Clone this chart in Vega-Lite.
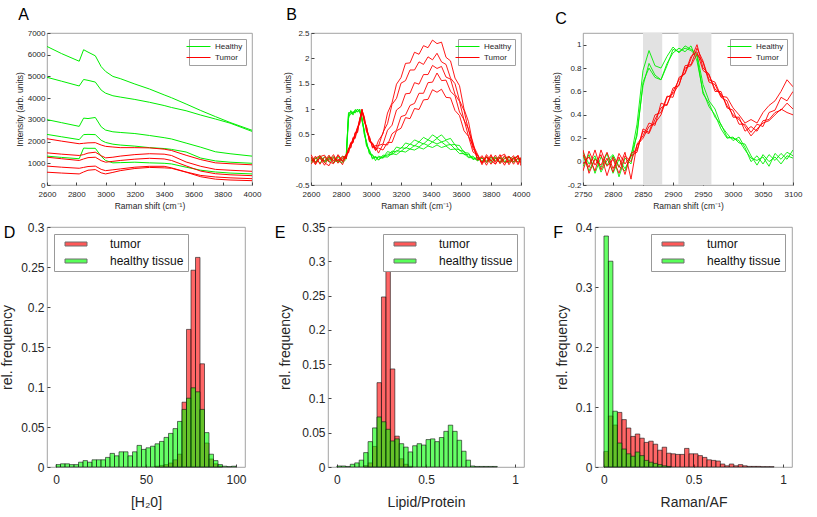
{
"$schema": "https://vega.github.io/schema/vega-lite/v6.json",
"background": "white",
"padding": {"left": 0, "top": 6, "right": 2, "bottom": 2},
"config": {
 "font": "Liberation Sans",
 "view": {"stroke": "#8c8c8c", "strokeWidth": 0.8},
 "axis": {"grid": false, "domain": false, "tickColor": "#444", "tickSize": -3, "labelColor": "#262626", "titleColor": "#262626", "titleFontWeight": "normal", "labelFont": "Liberation Sans", "titleFont": "Liberation Sans", "labelOverlap": false, "labelFlush": false},
 "title": {"font": "Liberation Sans", "fontWeight": "normal", "fontSize": 16, "anchor": "start", "frame": "bounds", "color": "black"}
},
"datasets": {
"a": [
{"s":"Healthy","i":"G1","x":2600,"y":6380},{"s":"Healthy","i":"G1","x":2700,"y":6050},{"s":"Healthy","i":"G1","x":2820,"y":5700},{"s":"Healthy","i":"G1","x":2850,"y":6230},{"s":"Healthy","i":"G1","x":2880,"y":6120},{"s":"Healthy","i":"G1","x":2930,"y":5950},{"s":"Healthy","i":"G1","x":2970,"y":5450},{"s":"Healthy","i":"G1","x":3000,"y":5230},{"s":"Healthy","i":"G1","x":3050,"y":5000},{"s":"Healthy","i":"G1","x":3100,"y":4900},{"s":"Healthy","i":"G1","x":3200,"y":4650},{"s":"Healthy","i":"G1","x":3300,"y":4420},{"s":"Healthy","i":"G1","x":3400,"y":4150},{"s":"Healthy","i":"G1","x":3450,"y":4020},{"s":"Healthy","i":"G1","x":3550,"y":3730},{"s":"Healthy","i":"G1","x":3650,"y":3430},{"s":"Healthy","i":"G1","x":3750,"y":3150},{"s":"Healthy","i":"G1","x":3850,"y":2880},{"s":"Healthy","i":"G1","x":4000,"y":2520},
{"s":"Healthy","i":"G2","x":2600,"y":4960},{"s":"Healthy","i":"G2","x":2700,"y":4780},{"s":"Healthy","i":"G2","x":2820,"y":4560},{"s":"Healthy","i":"G2","x":2850,"y":4860},{"s":"Healthy","i":"G2","x":2880,"y":4820},{"s":"Healthy","i":"G2","x":2930,"y":4740},{"s":"Healthy","i":"G2","x":2970,"y":4370},{"s":"Healthy","i":"G2","x":3000,"y":4230},{"s":"Healthy","i":"G2","x":3050,"y":4110},{"s":"Healthy","i":"G2","x":3100,"y":4050},{"s":"Healthy","i":"G2","x":3200,"y":3940},{"s":"Healthy","i":"G2","x":3300,"y":3810},{"s":"Healthy","i":"G2","x":3400,"y":3660},{"s":"Healthy","i":"G2","x":3450,"y":3570},{"s":"Healthy","i":"G2","x":3550,"y":3420},{"s":"Healthy","i":"G2","x":3650,"y":3220},{"s":"Healthy","i":"G2","x":3750,"y":3040},{"s":"Healthy","i":"G2","x":3850,"y":2850},{"s":"Healthy","i":"G2","x":4000,"y":2470},
{"s":"Healthy","i":"G3","x":2600,"y":3010},{"s":"Healthy","i":"G3","x":2700,"y":2870},{"s":"Healthy","i":"G3","x":2820,"y":2700},{"s":"Healthy","i":"G3","x":2850,"y":3080},{"s":"Healthy","i":"G3","x":2880,"y":3060},{"s":"Healthy","i":"G3","x":2930,"y":3110},{"s":"Healthy","i":"G3","x":2970,"y":2680},{"s":"Healthy","i":"G3","x":3000,"y":2530},{"s":"Healthy","i":"G3","x":3050,"y":2450},{"s":"Healthy","i":"G3","x":3100,"y":2420},{"s":"Healthy","i":"G3","x":3200,"y":2370},{"s":"Healthy","i":"G3","x":3300,"y":2280},{"s":"Healthy","i":"G3","x":3400,"y":2180},{"s":"Healthy","i":"G3","x":3450,"y":2120},{"s":"Healthy","i":"G3","x":3550,"y":1930},{"s":"Healthy","i":"G3","x":3650,"y":1740},{"s":"Healthy","i":"G3","x":3750,"y":1530},{"s":"Healthy","i":"G3","x":3850,"y":1440},{"s":"Healthy","i":"G3","x":4000,"y":1330},
{"s":"Healthy","i":"G4","x":2600,"y":2330},{"s":"Healthy","i":"G4","x":2700,"y":2220},{"s":"Healthy","i":"G4","x":2820,"y":2090},{"s":"Healthy","i":"G4","x":2850,"y":2320},{"s":"Healthy","i":"G4","x":2880,"y":2330},{"s":"Healthy","i":"G4","x":2930,"y":2320},{"s":"Healthy","i":"G4","x":2970,"y":2060},{"s":"Healthy","i":"G4","x":3000,"y":1960},{"s":"Healthy","i":"G4","x":3050,"y":1880},{"s":"Healthy","i":"G4","x":3100,"y":1840},{"s":"Healthy","i":"G4","x":3200,"y":1790},{"s":"Healthy","i":"G4","x":3300,"y":1720},{"s":"Healthy","i":"G4","x":3400,"y":1680},{"s":"Healthy","i":"G4","x":3450,"y":1640},{"s":"Healthy","i":"G4","x":3550,"y":1520},{"s":"Healthy","i":"G4","x":3650,"y":1240},{"s":"Healthy","i":"G4","x":3750,"y":1110},{"s":"Healthy","i":"G4","x":3850,"y":1050},{"s":"Healthy","i":"G4","x":4000,"y":1000},
{"s":"Healthy","i":"G5","x":2600,"y":1330},{"s":"Healthy","i":"G5","x":2700,"y":1270},{"s":"Healthy","i":"G5","x":2820,"y":1210},{"s":"Healthy","i":"G5","x":2850,"y":1700},{"s":"Healthy","i":"G5","x":2880,"y":1690},{"s":"Healthy","i":"G5","x":2930,"y":1690},{"s":"Healthy","i":"G5","x":2970,"y":1320},{"s":"Healthy","i":"G5","x":3000,"y":1130},{"s":"Healthy","i":"G5","x":3050,"y":1020},{"s":"Healthy","i":"G5","x":3100,"y":1030},{"s":"Healthy","i":"G5","x":3200,"y":1050},{"s":"Healthy","i":"G5","x":3300,"y":1020},{"s":"Healthy","i":"G5","x":3400,"y":1000},{"s":"Healthy","i":"G5","x":3450,"y":970},{"s":"Healthy","i":"G5","x":3550,"y":820},{"s":"Healthy","i":"G5","x":3650,"y":680},{"s":"Healthy","i":"G5","x":3750,"y":600},{"s":"Healthy","i":"G5","x":3850,"y":550},{"s":"Healthy","i":"G5","x":4000,"y":510},
{"s":"Tumor","i":"R1","x":2600,"y":2130},{"s":"Tumor","i":"R1","x":2700,"y":2020},{"s":"Tumor","i":"R1","x":2820,"y":1900},{"s":"Tumor","i":"R1","x":2850,"y":1920},{"s":"Tumor","i":"R1","x":2880,"y":1940},{"s":"Tumor","i":"R1","x":2930,"y":1950},{"s":"Tumor","i":"R1","x":2970,"y":1840},{"s":"Tumor","i":"R1","x":3000,"y":1780},{"s":"Tumor","i":"R1","x":3050,"y":1750},{"s":"Tumor","i":"R1","x":3100,"y":1720},{"s":"Tumor","i":"R1","x":3200,"y":1720},{"s":"Tumor","i":"R1","x":3300,"y":1710},{"s":"Tumor","i":"R1","x":3400,"y":1650},{"s":"Tumor","i":"R1","x":3450,"y":1590},{"s":"Tumor","i":"R1","x":3550,"y":1370},{"s":"Tumor","i":"R1","x":3650,"y":1170},{"s":"Tumor","i":"R1","x":3750,"y":1020},{"s":"Tumor","i":"R1","x":3850,"y":980},{"s":"Tumor","i":"R1","x":4000,"y":930},
{"s":"Tumor","i":"R2","x":2600,"y":1480},{"s":"Tumor","i":"R2","x":2700,"y":1420},{"s":"Tumor","i":"R2","x":2820,"y":1360},{"s":"Tumor","i":"R2","x":2850,"y":1400},{"s":"Tumor","i":"R2","x":2880,"y":1470},{"s":"Tumor","i":"R2","x":2930,"y":1510},{"s":"Tumor","i":"R2","x":2970,"y":1350},{"s":"Tumor","i":"R2","x":3000,"y":1250},{"s":"Tumor","i":"R2","x":3050,"y":1280},{"s":"Tumor","i":"R2","x":3100,"y":1330},{"s":"Tumor","i":"R2","x":3200,"y":1400},{"s":"Tumor","i":"R2","x":3300,"y":1440},{"s":"Tumor","i":"R2","x":3400,"y":1420},{"s":"Tumor","i":"R2","x":3450,"y":1360},{"s":"Tumor","i":"R2","x":3550,"y":1060},{"s":"Tumor","i":"R2","x":3650,"y":860},{"s":"Tumor","i":"R2","x":3750,"y":720},{"s":"Tumor","i":"R2","x":3850,"y":680},{"s":"Tumor","i":"R2","x":4000,"y":630},
{"s":"Tumor","i":"R3","x":2600,"y":870},{"s":"Tumor","i":"R3","x":2700,"y":820},{"s":"Tumor","i":"R3","x":2820,"y":770},{"s":"Tumor","i":"R3","x":2850,"y":810},{"s":"Tumor","i":"R3","x":2880,"y":850},{"s":"Tumor","i":"R3","x":2930,"y":870},{"s":"Tumor","i":"R3","x":2970,"y":720},{"s":"Tumor","i":"R3","x":3000,"y":660},{"s":"Tumor","i":"R3","x":3050,"y":700},{"s":"Tumor","i":"R3","x":3100,"y":740},{"s":"Tumor","i":"R3","x":3200,"y":820},{"s":"Tumor","i":"R3","x":3300,"y":860},{"s":"Tumor","i":"R3","x":3400,"y":860},{"s":"Tumor","i":"R3","x":3450,"y":790},{"s":"Tumor","i":"R3","x":3550,"y":600},{"s":"Tumor","i":"R3","x":3650,"y":440},{"s":"Tumor","i":"R3","x":3750,"y":370},{"s":"Tumor","i":"R3","x":3850,"y":330},{"s":"Tumor","i":"R3","x":4000,"y":290},
{"s":"Tumor","i":"R4","x":2600,"y":590},{"s":"Tumor","i":"R4","x":2700,"y":550},{"s":"Tumor","i":"R4","x":2820,"y":510},{"s":"Tumor","i":"R4","x":2850,"y":600},{"s":"Tumor","i":"R4","x":2880,"y":680},{"s":"Tumor","i":"R4","x":2930,"y":710},{"s":"Tumor","i":"R4","x":2970,"y":560},{"s":"Tumor","i":"R4","x":3000,"y":510},{"s":"Tumor","i":"R4","x":3050,"y":580},{"s":"Tumor","i":"R4","x":3100,"y":660},{"s":"Tumor","i":"R4","x":3200,"y":760},{"s":"Tumor","i":"R4","x":3300,"y":810},{"s":"Tumor","i":"R4","x":3400,"y":790},{"s":"Tumor","i":"R4","x":3450,"y":770},{"s":"Tumor","i":"R4","x":3550,"y":590},{"s":"Tumor","i":"R4","x":3650,"y":380},{"s":"Tumor","i":"R4","x":3750,"y":270},{"s":"Tumor","i":"R4","x":3850,"y":230},{"s":"Tumor","i":"R4","x":4000,"y":200},
{"s":"Tumor","i":"R5","x":2600,"y":1280},{"s":"Tumor","i":"R5","x":2700,"y":1210},{"s":"Tumor","i":"R5","x":2820,"y":1130},{"s":"Tumor","i":"R5","x":2850,"y":1200},{"s":"Tumor","i":"R5","x":2880,"y":1260},{"s":"Tumor","i":"R5","x":2930,"y":1280},{"s":"Tumor","i":"R5","x":2970,"y":1120},{"s":"Tumor","i":"R5","x":3000,"y":1050},{"s":"Tumor","i":"R5","x":3050,"y":1090},{"s":"Tumor","i":"R5","x":3100,"y":1130},{"s":"Tumor","i":"R5","x":3200,"y":1190},{"s":"Tumor","i":"R5","x":3300,"y":1230},{"s":"Tumor","i":"R5","x":3400,"y":1200},{"s":"Tumor","i":"R5","x":3450,"y":1130},{"s":"Tumor","i":"R5","x":3550,"y":880},{"s":"Tumor","i":"R5","x":3650,"y":640},{"s":"Tumor","i":"R5","x":3750,"y":520},{"s":"Tumor","i":"R5","x":3850,"y":470},{"s":"Tumor","i":"R5","x":4000,"y":430}
],
"b": [
{"s":"Healthy","i":"H1","x":2600,"y":0.05},{"s":"Healthy","i":"H1","x":2630,"y":-0.06},{"s":"Healthy","i":"H1","x":2660,"y":0.08},{"s":"Healthy","i":"H1","x":2690,"y":-0.02},{"s":"Healthy","i":"H1","x":2720,"y":0.04},{"s":"Healthy","i":"H1","x":2750,"y":-0.07},{"s":"Healthy","i":"H1","x":2780,"y":0.06},{"s":"Healthy","i":"H1","x":2810,"y":-0.04},{"s":"Healthy","i":"H1","x":2835,"y":0.08},{"s":"Healthy","i":"H1","x":2850,"y":0.9},{"s":"Healthy","i":"H1","x":2865,"y":0.95},{"s":"Healthy","i":"H1","x":2880,"y":0.93},{"s":"Healthy","i":"H1","x":2895,"y":0.94},{"s":"Healthy","i":"H1","x":2910,"y":1.0},{"s":"Healthy","i":"H1","x":2925,"y":0.93},{"s":"Healthy","i":"H1","x":2940,"y":0.84},{"s":"Healthy","i":"H1","x":2955,"y":0.52},{"s":"Healthy","i":"H1","x":2970,"y":0.36},{"s":"Healthy","i":"H1","x":2990,"y":0.12},{"s":"Healthy","i":"H1","x":3010,"y":0.1},{"s":"Healthy","i":"H1","x":3030,"y":-0.02},{"s":"Healthy","i":"H1","x":3050,"y":0.07},{"s":"Healthy","i":"H1","x":3080,"y":0.04},{"s":"Healthy","i":"H1","x":3110,"y":0.16},{"s":"Healthy","i":"H1","x":3140,"y":0.13},{"s":"Healthy","i":"H1","x":3170,"y":0.25},{"s":"Healthy","i":"H1","x":3200,"y":0.22},{"s":"Healthy","i":"H1","x":3230,"y":0.33},{"s":"Healthy","i":"H1","x":3260,"y":0.3},{"s":"Healthy","i":"H1","x":3290,"y":0.39},{"s":"Healthy","i":"H1","x":3320,"y":0.35},{"s":"Healthy","i":"H1","x":3350,"y":0.44},{"s":"Healthy","i":"H1","x":3380,"y":0.39},{"s":"Healthy","i":"H1","x":3410,"y":0.49},{"s":"Healthy","i":"H1","x":3440,"y":0.43},{"s":"Healthy","i":"H1","x":3470,"y":0.49},{"s":"Healthy","i":"H1","x":3500,"y":0.39},{"s":"Healthy","i":"H1","x":3530,"y":0.42},{"s":"Healthy","i":"H1","x":3560,"y":0.29},{"s":"Healthy","i":"H1","x":3590,"y":0.28},{"s":"Healthy","i":"H1","x":3620,"y":0.14},{"s":"Healthy","i":"H1","x":3650,"y":0.13},{"s":"Healthy","i":"H1","x":3680,"y":0.0},{"s":"Healthy","i":"H1","x":3710,"y":0.05},{"s":"Healthy","i":"H1","x":3740,"y":-0.05},{"s":"Healthy","i":"H1","x":3770,"y":0.06},{"s":"Healthy","i":"H1","x":3800,"y":-0.03},{"s":"Healthy","i":"H1","x":3830,"y":0.04},{"s":"Healthy","i":"H1","x":3860,"y":-0.07},{"s":"Healthy","i":"H1","x":3890,"y":0.03},{"s":"Healthy","i":"H1","x":3920,"y":0.05},{"s":"Healthy","i":"H1","x":3950,"y":-0.04},{"s":"Healthy","i":"H1","x":3980,"y":0.02},{"s":"Healthy","i":"H1","x":4000,"y":-0.06},
{"s":"Healthy","i":"H2","x":2600,"y":-0.03},{"s":"Healthy","i":"H2","x":2630,"y":0.04},{"s":"Healthy","i":"H2","x":2660,"y":-0.07},{"s":"Healthy","i":"H2","x":2690,"y":0.06},{"s":"Healthy","i":"H2","x":2720,"y":-0.05},{"s":"Healthy","i":"H2","x":2750,"y":0.03},{"s":"Healthy","i":"H2","x":2780,"y":-0.02},{"s":"Healthy","i":"H2","x":2810,"y":0.07},{"s":"Healthy","i":"H2","x":2835,"y":0.03},{"s":"Healthy","i":"H2","x":2850,"y":0.81},{"s":"Healthy","i":"H2","x":2865,"y":0.97},{"s":"Healthy","i":"H2","x":2880,"y":0.88},{"s":"Healthy","i":"H2","x":2895,"y":0.99},{"s":"Healthy","i":"H2","x":2910,"y":0.95},{"s":"Healthy","i":"H2","x":2925,"y":0.98},{"s":"Healthy","i":"H2","x":2940,"y":0.76},{"s":"Healthy","i":"H2","x":2955,"y":0.59},{"s":"Healthy","i":"H2","x":2970,"y":0.29},{"s":"Healthy","i":"H2","x":2990,"y":0.19},{"s":"Healthy","i":"H2","x":3010,"y":0.03},{"s":"Healthy","i":"H2","x":3030,"y":0.05},{"s":"Healthy","i":"H2","x":3050,"y":-0.01},{"s":"Healthy","i":"H2","x":3080,"y":0.09},{"s":"Healthy","i":"H2","x":3110,"y":0.07},{"s":"Healthy","i":"H2","x":3140,"y":0.17},{"s":"Healthy","i":"H2","x":3170,"y":0.15},{"s":"Healthy","i":"H2","x":3200,"y":0.24},{"s":"Healthy","i":"H2","x":3230,"y":0.22},{"s":"Healthy","i":"H2","x":3260,"y":0.31},{"s":"Healthy","i":"H2","x":3290,"y":0.27},{"s":"Healthy","i":"H2","x":3320,"y":0.35},{"s":"Healthy","i":"H2","x":3350,"y":0.31},{"s":"Healthy","i":"H2","x":3380,"y":0.39},{"s":"Healthy","i":"H2","x":3410,"y":0.35},{"s":"Healthy","i":"H2","x":3440,"y":0.42},{"s":"Healthy","i":"H2","x":3470,"y":0.35},{"s":"Healthy","i":"H2","x":3500,"y":0.38},{"s":"Healthy","i":"H2","x":3530,"y":0.29},{"s":"Healthy","i":"H2","x":3560,"y":0.3},{"s":"Healthy","i":"H2","x":3590,"y":0.18},{"s":"Healthy","i":"H2","x":3620,"y":0.17},{"s":"Healthy","i":"H2","x":3650,"y":0.05},{"s":"Healthy","i":"H2","x":3680,"y":0.07},{"s":"Healthy","i":"H2","x":3710,"y":-0.02},{"s":"Healthy","i":"H2","x":3740,"y":0.04},{"s":"Healthy","i":"H2","x":3770,"y":-0.06},{"s":"Healthy","i":"H2","x":3800,"y":0.05},{"s":"Healthy","i":"H2","x":3830,"y":-0.02},{"s":"Healthy","i":"H2","x":3860,"y":0.03},{"s":"Healthy","i":"H2","x":3890,"y":-0.05},{"s":"Healthy","i":"H2","x":3920,"y":0.06},{"s":"Healthy","i":"H2","x":3950,"y":0.01},{"s":"Healthy","i":"H2","x":3980,"y":-0.04},{"s":"Healthy","i":"H2","x":4000,"y":0.03},
{"s":"Healthy","i":"H3","x":2600,"y":0.02},{"s":"Healthy","i":"H3","x":2630,"y":-0.04},{"s":"Healthy","i":"H3","x":2660,"y":0.03},{"s":"Healthy","i":"H3","x":2690,"y":-0.06},{"s":"Healthy","i":"H3","x":2720,"y":0.07},{"s":"Healthy","i":"H3","x":2750,"y":-0.01},{"s":"Healthy","i":"H3","x":2780,"y":-0.05},{"s":"Healthy","i":"H3","x":2810,"y":0.02},{"s":"Healthy","i":"H3","x":2835,"y":0.1},{"s":"Healthy","i":"H3","x":2850,"y":0.87},{"s":"Healthy","i":"H3","x":2865,"y":0.89},{"s":"Healthy","i":"H3","x":2880,"y":0.95},{"s":"Healthy","i":"H3","x":2895,"y":0.92},{"s":"Healthy","i":"H3","x":2910,"y":0.99},{"s":"Healthy","i":"H3","x":2925,"y":0.95},{"s":"Healthy","i":"H3","x":2940,"y":0.82},{"s":"Healthy","i":"H3","x":2955,"y":0.5},{"s":"Healthy","i":"H3","x":2970,"y":0.34},{"s":"Healthy","i":"H3","x":2990,"y":0.11},{"s":"Healthy","i":"H3","x":3010,"y":0.08},{"s":"Healthy","i":"H3","x":3030,"y":0.04},{"s":"Healthy","i":"H3","x":3050,"y":0.04},{"s":"Healthy","i":"H3","x":3080,"y":0.03},{"s":"Healthy","i":"H3","x":3110,"y":0.11},{"s":"Healthy","i":"H3","x":3140,"y":0.1},{"s":"Healthy","i":"H3","x":3170,"y":0.18},{"s":"Healthy","i":"H3","x":3200,"y":0.16},{"s":"Healthy","i":"H3","x":3230,"y":0.24},{"s":"Healthy","i":"H3","x":3260,"y":0.21},{"s":"Healthy","i":"H3","x":3290,"y":0.28},{"s":"Healthy","i":"H3","x":3320,"y":0.25},{"s":"Healthy","i":"H3","x":3350,"y":0.32},{"s":"Healthy","i":"H3","x":3380,"y":0.28},{"s":"Healthy","i":"H3","x":3410,"y":0.35},{"s":"Healthy","i":"H3","x":3440,"y":0.31},{"s":"Healthy","i":"H3","x":3470,"y":0.35},{"s":"Healthy","i":"H3","x":3500,"y":0.28},{"s":"Healthy","i":"H3","x":3530,"y":0.3},{"s":"Healthy","i":"H3","x":3560,"y":0.21},{"s":"Healthy","i":"H3","x":3590,"y":0.2},{"s":"Healthy","i":"H3","x":3620,"y":0.1},{"s":"Healthy","i":"H3","x":3650,"y":0.1},{"s":"Healthy","i":"H3","x":3680,"y":0.01},{"s":"Healthy","i":"H3","x":3710,"y":0.04},{"s":"Healthy","i":"H3","x":3740,"y":-0.03},{"s":"Healthy","i":"H3","x":3770,"y":0.05},{"s":"Healthy","i":"H3","x":3800,"y":-0.06},{"s":"Healthy","i":"H3","x":3830,"y":0.02},{"s":"Healthy","i":"H3","x":3860,"y":0.05},{"s":"Healthy","i":"H3","x":3890,"y":-0.03},{"s":"Healthy","i":"H3","x":3920,"y":-0.06},{"s":"Healthy","i":"H3","x":3950,"y":0.04},{"s":"Healthy","i":"H3","x":3980,"y":0.06},{"s":"Healthy","i":"H3","x":4000,"y":-0.02},
{"s":"Healthy","i":"H4","x":2600,"y":-0.06},{"s":"Healthy","i":"H4","x":2630,"y":0.02},{"s":"Healthy","i":"H4","x":2660,"y":0.05},{"s":"Healthy","i":"H4","x":2690,"y":-0.04},{"s":"Healthy","i":"H4","x":2720,"y":0.01},{"s":"Healthy","i":"H4","x":2750,"y":0.06},{"s":"Healthy","i":"H4","x":2780,"y":-0.03},{"s":"Healthy","i":"H4","x":2810,"y":-0.06},{"s":"Healthy","i":"H4","x":2835,"y":0.01},{"s":"Healthy","i":"H4","x":2850,"y":0.93},{"s":"Healthy","i":"H4","x":2865,"y":0.92},{"s":"Healthy","i":"H4","x":2880,"y":0.91},{"s":"Healthy","i":"H4","x":2895,"y":0.98},{"s":"Healthy","i":"H4","x":2910,"y":0.94},{"s":"Healthy","i":"H4","x":2925,"y":1.0},{"s":"Healthy","i":"H4","x":2940,"y":0.78},{"s":"Healthy","i":"H4","x":2955,"y":0.57},{"s":"Healthy","i":"H4","x":2970,"y":0.27},{"s":"Healthy","i":"H4","x":2990,"y":0.17},{"s":"Healthy","i":"H4","x":3010,"y":0.01},{"s":"Healthy","i":"H4","x":3030,"y":0.07},{"s":"Healthy","i":"H4","x":3050,"y":0.0},{"s":"Healthy","i":"H4","x":3080,"y":0.06},{"s":"Healthy","i":"H4","x":3110,"y":0.05},{"s":"Healthy","i":"H4","x":3140,"y":0.12},{"s":"Healthy","i":"H4","x":3170,"y":0.1},{"s":"Healthy","i":"H4","x":3200,"y":0.17},{"s":"Healthy","i":"H4","x":3230,"y":0.15},{"s":"Healthy","i":"H4","x":3260,"y":0.21},{"s":"Healthy","i":"H4","x":3290,"y":0.19},{"s":"Healthy","i":"H4","x":3320,"y":0.24},{"s":"Healthy","i":"H4","x":3350,"y":0.21},{"s":"Healthy","i":"H4","x":3380,"y":0.27},{"s":"Healthy","i":"H4","x":3410,"y":0.24},{"s":"Healthy","i":"H4","x":3440,"y":0.29},{"s":"Healthy","i":"H4","x":3470,"y":0.24},{"s":"Healthy","i":"H4","x":3500,"y":0.27},{"s":"Healthy","i":"H4","x":3530,"y":0.2},{"s":"Healthy","i":"H4","x":3560,"y":0.21},{"s":"Healthy","i":"H4","x":3590,"y":0.12},{"s":"Healthy","i":"H4","x":3620,"y":0.12},{"s":"Healthy","i":"H4","x":3650,"y":0.04},{"s":"Healthy","i":"H4","x":3680,"y":0.04},{"s":"Healthy","i":"H4","x":3710,"y":-0.02},{"s":"Healthy","i":"H4","x":3740,"y":0.03},{"s":"Healthy","i":"H4","x":3770,"y":-0.02},{"s":"Healthy","i":"H4","x":3800,"y":0.01},{"s":"Healthy","i":"H4","x":3830,"y":0.05},{"s":"Healthy","i":"H4","x":3860,"y":-0.04},{"s":"Healthy","i":"H4","x":3890,"y":0.06},{"s":"Healthy","i":"H4","x":3920,"y":-0.01},{"s":"Healthy","i":"H4","x":3950,"y":-0.05},{"s":"Healthy","i":"H4","x":3980,"y":0.03},{"s":"Healthy","i":"H4","x":4000,"y":0.01},
{"s":"Tumor","i":"T1","x":2600,"y":0.06},{"s":"Tumor","i":"T1","x":2630,"y":-0.08},{"s":"Tumor","i":"T1","x":2660,"y":0.04},{"s":"Tumor","i":"T1","x":2690,"y":-0.03},{"s":"Tumor","i":"T1","x":2720,"y":0.09},{"s":"Tumor","i":"T1","x":2750,"y":-0.06},{"s":"Tumor","i":"T1","x":2780,"y":0.02},{"s":"Tumor","i":"T1","x":2810,"y":-0.1},{"s":"Tumor","i":"T1","x":2835,"y":0.09},{"s":"Tumor","i":"T1","x":2850,"y":0.15},{"s":"Tumor","i":"T1","x":2865,"y":0.33},{"s":"Tumor","i":"T1","x":2880,"y":0.34},{"s":"Tumor","i":"T1","x":2895,"y":0.51},{"s":"Tumor","i":"T1","x":2910,"y":0.64},{"s":"Tumor","i":"T1","x":2925,"y":0.73},{"s":"Tumor","i":"T1","x":2940,"y":0.99},{"s":"Tumor","i":"T1","x":2955,"y":0.75},{"s":"Tumor","i":"T1","x":2970,"y":0.63},{"s":"Tumor","i":"T1","x":2990,"y":0.38},{"s":"Tumor","i":"T1","x":3010,"y":0.32},{"s":"Tumor","i":"T1","x":3030,"y":0.22},{"s":"Tumor","i":"T1","x":3050,"y":0.38},{"s":"Tumor","i":"T1","x":3080,"y":0.51},{"s":"Tumor","i":"T1","x":3110,"y":0.92},{"s":"Tumor","i":"T1","x":3140,"y":1.12},{"s":"Tumor","i":"T1","x":3170,"y":1.49},{"s":"Tumor","i":"T1","x":3200,"y":1.62},{"s":"Tumor","i":"T1","x":3230,"y":1.9},{"s":"Tumor","i":"T1","x":3260,"y":1.91},{"s":"Tumor","i":"T1","x":3290,"y":2.12},{"s":"Tumor","i":"T1","x":3320,"y":2.08},{"s":"Tumor","i":"T1","x":3350,"y":2.25},{"s":"Tumor","i":"T1","x":3380,"y":2.21},{"s":"Tumor","i":"T1","x":3410,"y":2.36},{"s":"Tumor","i":"T1","x":3440,"y":2.29},{"s":"Tumor","i":"T1","x":3470,"y":2.32},{"s":"Tumor","i":"T1","x":3500,"y":2.02},{"s":"Tumor","i":"T1","x":3530,"y":1.95},{"s":"Tumor","i":"T1","x":3560,"y":1.61},{"s":"Tumor","i":"T1","x":3590,"y":1.46},{"s":"Tumor","i":"T1","x":3620,"y":1.0},{"s":"Tumor","i":"T1","x":3650,"y":0.75},{"s":"Tumor","i":"T1","x":3680,"y":0.29},{"s":"Tumor","i":"T1","x":3710,"y":0.11},{"s":"Tumor","i":"T1","x":3740,"y":-0.07},{"s":"Tumor","i":"T1","x":3770,"y":0.05},{"s":"Tumor","i":"T1","x":3800,"y":-0.09},{"s":"Tumor","i":"T1","x":3830,"y":0.03},{"s":"Tumor","i":"T1","x":3860,"y":-0.05},{"s":"Tumor","i":"T1","x":3890,"y":0.08},{"s":"Tumor","i":"T1","x":3920,"y":-0.1},{"s":"Tumor","i":"T1","x":3950,"y":0.04},{"s":"Tumor","i":"T1","x":3980,"y":-0.06},{"s":"Tumor","i":"T1","x":4000,"y":0.02},
{"s":"Tumor","i":"T2","x":2600,"y":-0.04},{"s":"Tumor","i":"T2","x":2630,"y":0.07},{"s":"Tumor","i":"T2","x":2660,"y":-0.09},{"s":"Tumor","i":"T2","x":2690,"y":0.05},{"s":"Tumor","i":"T2","x":2720,"y":-0.02},{"s":"Tumor","i":"T2","x":2750,"y":0.1},{"s":"Tumor","i":"T2","x":2780,"y":-0.07},{"s":"Tumor","i":"T2","x":2810,"y":0.04},{"s":"Tumor","i":"T2","x":2835,"y":0.02},{"s":"Tumor","i":"T2","x":2850,"y":0.23},{"s":"Tumor","i":"T2","x":2865,"y":0.24},{"s":"Tumor","i":"T2","x":2880,"y":0.44},{"s":"Tumor","i":"T2","x":2895,"y":0.45},{"s":"Tumor","i":"T2","x":2910,"y":0.62},{"s":"Tumor","i":"T2","x":2925,"y":0.8},{"s":"Tumor","i":"T2","x":2940,"y":0.94},{"s":"Tumor","i":"T2","x":2955,"y":0.84},{"s":"Tumor","i":"T2","x":2970,"y":0.55},{"s":"Tumor","i":"T2","x":2990,"y":0.44},{"s":"Tumor","i":"T2","x":3010,"y":0.25},{"s":"Tumor","i":"T2","x":3030,"y":0.28},{"s":"Tumor","i":"T2","x":3050,"y":0.27},{"s":"Tumor","i":"T2","x":3080,"y":0.54},{"s":"Tumor","i":"T2","x":3110,"y":0.71},{"s":"Tumor","i":"T2","x":3140,"y":1.09},{"s":"Tumor","i":"T2","x":3170,"y":1.21},{"s":"Tumor","i":"T2","x":3200,"y":1.51},{"s":"Tumor","i":"T2","x":3230,"y":1.56},{"s":"Tumor","i":"T2","x":3260,"y":1.77},{"s":"Tumor","i":"T2","x":3290,"y":1.77},{"s":"Tumor","i":"T2","x":3320,"y":1.93},{"s":"Tumor","i":"T2","x":3350,"y":1.88},{"s":"Tumor","i":"T2","x":3380,"y":2.03},{"s":"Tumor","i":"T2","x":3410,"y":1.97},{"s":"Tumor","i":"T2","x":3440,"y":2.1},{"s":"Tumor","i":"T2","x":3470,"y":1.93},{"s":"Tumor","i":"T2","x":3500,"y":1.88},{"s":"Tumor","i":"T2","x":3530,"y":1.61},{"s":"Tumor","i":"T2","x":3560,"y":1.5},{"s":"Tumor","i":"T2","x":3590,"y":1.17},{"s":"Tumor","i":"T2","x":3620,"y":0.97},{"s":"Tumor","i":"T2","x":3650,"y":0.58},{"s":"Tumor","i":"T2","x":3680,"y":0.34},{"s":"Tumor","i":"T2","x":3710,"y":-0.01},{"s":"Tumor","i":"T2","x":3740,"y":0.08},{"s":"Tumor","i":"T2","x":3770,"y":-0.05},{"s":"Tumor","i":"T2","x":3800,"y":0.1},{"s":"Tumor","i":"T2","x":3830,"y":-0.08},{"s":"Tumor","i":"T2","x":3860,"y":0.04},{"s":"Tumor","i":"T2","x":3890,"y":-0.11},{"s":"Tumor","i":"T2","x":3920,"y":0.06},{"s":"Tumor","i":"T2","x":3950,"y":-0.04},{"s":"Tumor","i":"T2","x":3980,"y":0.09},{"s":"Tumor","i":"T2","x":4000,"y":-0.07},
{"s":"Tumor","i":"T3","x":2600,"y":0.1},{"s":"Tumor","i":"T3","x":2630,"y":-0.05},{"s":"Tumor","i":"T3","x":2660,"y":0.03},{"s":"Tumor","i":"T3","x":2690,"y":-0.11},{"s":"Tumor","i":"T3","x":2720,"y":0.05},{"s":"Tumor","i":"T3","x":2750,"y":-0.02},{"s":"Tumor","i":"T3","x":2780,"y":0.08},{"s":"Tumor","i":"T3","x":2810,"y":-0.04},{"s":"Tumor","i":"T3","x":2835,"y":0.1},{"s":"Tumor","i":"T3","x":2850,"y":0.13},{"s":"Tumor","i":"T3","x":2865,"y":0.31},{"s":"Tumor","i":"T3","x":2880,"y":0.33},{"s":"Tumor","i":"T3","x":2895,"y":0.53},{"s":"Tumor","i":"T3","x":2910,"y":0.55},{"s":"Tumor","i":"T3","x":2925,"y":0.79},{"s":"Tumor","i":"T3","x":2940,"y":1.0},{"s":"Tumor","i":"T3","x":2955,"y":0.76},{"s":"Tumor","i":"T3","x":2970,"y":0.65},{"s":"Tumor","i":"T3","x":2990,"y":0.35},{"s":"Tumor","i":"T3","x":3010,"y":0.31},{"s":"Tumor","i":"T3","x":3030,"y":0.18},{"s":"Tumor","i":"T3","x":3050,"y":0.28},{"s":"Tumor","i":"T3","x":3080,"y":0.31},{"s":"Tumor","i":"T3","x":3110,"y":0.58},{"s":"Tumor","i":"T3","x":3140,"y":0.68},{"s":"Tumor","i":"T3","x":3170,"y":0.98},{"s":"Tumor","i":"T3","x":3200,"y":1.05},{"s":"Tumor","i":"T3","x":3230,"y":1.3},{"s":"Tumor","i":"T3","x":3260,"y":1.31},{"s":"Tumor","i":"T3","x":3290,"y":1.52},{"s":"Tumor","i":"T3","x":3320,"y":1.49},{"s":"Tumor","i":"T3","x":3350,"y":1.68},{"s":"Tumor","i":"T3","x":3380,"y":1.68},{"s":"Tumor","i":"T3","x":3410,"y":1.86},{"s":"Tumor","i":"T3","x":3440,"y":1.8},{"s":"Tumor","i":"T3","x":3470,"y":1.84},{"s":"Tumor","i":"T3","x":3500,"y":1.63},{"s":"Tumor","i":"T3","x":3530,"y":1.59},{"s":"Tumor","i":"T3","x":3560,"y":1.29},{"s":"Tumor","i":"T3","x":3590,"y":1.15},{"s":"Tumor","i":"T3","x":3620,"y":0.78},{"s":"Tumor","i":"T3","x":3650,"y":0.61},{"s":"Tumor","i":"T3","x":3680,"y":0.22},{"s":"Tumor","i":"T3","x":3710,"y":0.09},{"s":"Tumor","i":"T3","x":3740,"y":-0.1},{"s":"Tumor","i":"T3","x":3770,"y":0.06},{"s":"Tumor","i":"T3","x":3800,"y":-0.03},{"s":"Tumor","i":"T3","x":3830,"y":0.09},{"s":"Tumor","i":"T3","x":3860,"y":-0.08},{"s":"Tumor","i":"T3","x":3890,"y":0.02},{"s":"Tumor","i":"T3","x":3920,"y":0.07},{"s":"Tumor","i":"T3","x":3950,"y":-0.09},{"s":"Tumor","i":"T3","x":3980,"y":0.04},{"s":"Tumor","i":"T3","x":4000,"y":-0.02},
{"s":"Tumor","i":"T4","x":2600,"y":-0.09},{"s":"Tumor","i":"T4","x":2630,"y":0.03},{"s":"Tumor","i":"T4","x":2660,"y":0.08},{"s":"Tumor","i":"T4","x":2690,"y":-0.06},{"s":"Tumor","i":"T4","x":2720,"y":-0.12},{"s":"Tumor","i":"T4","x":2750,"y":0.05},{"s":"Tumor","i":"T4","x":2780,"y":-0.03},{"s":"Tumor","i":"T4","x":2810,"y":0.07},{"s":"Tumor","i":"T4","x":2835,"y":0.03},{"s":"Tumor","i":"T4","x":2850,"y":0.22},{"s":"Tumor","i":"T4","x":2865,"y":0.23},{"s":"Tumor","i":"T4","x":2880,"y":0.42},{"s":"Tumor","i":"T4","x":2895,"y":0.42},{"s":"Tumor","i":"T4","x":2910,"y":0.63},{"s":"Tumor","i":"T4","x":2925,"y":0.71},{"s":"Tumor","i":"T4","x":2940,"y":0.98},{"s":"Tumor","i":"T4","x":2955,"y":0.85},{"s":"Tumor","i":"T4","x":2970,"y":0.57},{"s":"Tumor","i":"T4","x":2990,"y":0.45},{"s":"Tumor","i":"T4","x":3010,"y":0.23},{"s":"Tumor","i":"T4","x":3030,"y":0.25},{"s":"Tumor","i":"T4","x":3050,"y":0.13},{"s":"Tumor","i":"T4","x":3080,"y":0.3},{"s":"Tumor","i":"T4","x":3110,"y":0.29},{"s":"Tumor","i":"T4","x":3140,"y":0.51},{"s":"Tumor","i":"T4","x":3170,"y":0.58},{"s":"Tumor","i":"T4","x":3200,"y":0.85},{"s":"Tumor","i":"T4","x":3230,"y":0.88},{"s":"Tumor","i":"T4","x":3260,"y":1.07},{"s":"Tumor","i":"T4","x":3290,"y":1.11},{"s":"Tumor","i":"T4","x":3320,"y":1.31},{"s":"Tumor","i":"T4","x":3350,"y":1.31},{"s":"Tumor","i":"T4","x":3380,"y":1.52},{"s":"Tumor","i":"T4","x":3410,"y":1.53},{"s":"Tumor","i":"T4","x":3440,"y":1.71},{"s":"Tumor","i":"T4","x":3470,"y":1.56},{"s":"Tumor","i":"T4","x":3500,"y":1.57},{"s":"Tumor","i":"T4","x":3530,"y":1.35},{"s":"Tumor","i":"T4","x":3560,"y":1.26},{"s":"Tumor","i":"T4","x":3590,"y":0.94},{"s":"Tumor","i":"T4","x":3620,"y":0.79},{"s":"Tumor","i":"T4","x":3650,"y":0.46},{"s":"Tumor","i":"T4","x":3680,"y":0.28},{"s":"Tumor","i":"T4","x":3710,"y":0.0},{"s":"Tumor","i":"T4","x":3740,"y":0.05},{"s":"Tumor","i":"T4","x":3770,"y":-0.11},{"s":"Tumor","i":"T4","x":3800,"y":0.07},{"s":"Tumor","i":"T4","x":3830,"y":-0.04},{"s":"Tumor","i":"T4","x":3860,"y":0.1},{"s":"Tumor","i":"T4","x":3890,"y":-0.06},{"s":"Tumor","i":"T4","x":3920,"y":-0.02},{"s":"Tumor","i":"T4","x":3950,"y":0.08},{"s":"Tumor","i":"T4","x":3980,"y":-0.1},{"s":"Tumor","i":"T4","x":4000,"y":0.05},
{"s":"Tumor","i":"T5","x":2600,"y":0.03},{"s":"Tumor","i":"T5","x":2630,"y":-0.1},{"s":"Tumor","i":"T5","x":2660,"y":0.06},{"s":"Tumor","i":"T5","x":2690,"y":0.09},{"s":"Tumor","i":"T5","x":2720,"y":-0.04},{"s":"Tumor","i":"T5","x":2750,"y":-0.08},{"s":"Tumor","i":"T5","x":2780,"y":0.1},{"s":"Tumor","i":"T5","x":2810,"y":-0.02},{"s":"Tumor","i":"T5","x":2835,"y":0.11},{"s":"Tumor","i":"T5","x":2850,"y":0.2},{"s":"Tumor","i":"T5","x":2865,"y":0.34},{"s":"Tumor","i":"T5","x":2880,"y":0.36},{"s":"Tumor","i":"T5","x":2895,"y":0.54},{"s":"Tumor","i":"T5","x":2910,"y":0.53},{"s":"Tumor","i":"T5","x":2925,"y":0.81},{"s":"Tumor","i":"T5","x":2940,"y":0.95},{"s":"Tumor","i":"T5","x":2955,"y":0.78},{"s":"Tumor","i":"T5","x":2970,"y":0.66},{"s":"Tumor","i":"T5","x":2990,"y":0.36},{"s":"Tumor","i":"T5","x":3010,"y":0.33},{"s":"Tumor","i":"T5","x":3030,"y":0.19},{"s":"Tumor","i":"T5","x":3050,"y":0.23},{"s":"Tumor","i":"T5","x":3080,"y":0.19},{"s":"Tumor","i":"T5","x":3110,"y":0.34},{"s":"Tumor","i":"T5","x":3140,"y":0.34},{"s":"Tumor","i":"T5","x":3170,"y":0.57},{"s":"Tumor","i":"T5","x":3200,"y":0.62},{"s":"Tumor","i":"T5","x":3230,"y":0.83},{"s":"Tumor","i":"T5","x":3260,"y":0.81},{"s":"Tumor","i":"T5","x":3290,"y":1.01},{"s":"Tumor","i":"T5","x":3320,"y":0.99},{"s":"Tumor","i":"T5","x":3350,"y":1.18},{"s":"Tumor","i":"T5","x":3380,"y":1.19},{"s":"Tumor","i":"T5","x":3410,"y":1.38},{"s":"Tumor","i":"T5","x":3440,"y":1.33},{"s":"Tumor","i":"T5","x":3470,"y":1.39},{"s":"Tumor","i":"T5","x":3500,"y":1.23},{"s":"Tumor","i":"T5","x":3530,"y":1.22},{"s":"Tumor","i":"T5","x":3560,"y":0.97},{"s":"Tumor","i":"T5","x":3590,"y":0.87},{"s":"Tumor","i":"T5","x":3620,"y":0.57},{"s":"Tumor","i":"T5","x":3650,"y":0.46},{"s":"Tumor","i":"T5","x":3680,"y":0.15},{"s":"Tumor","i":"T5","x":3710,"y":0.09},{"s":"Tumor","i":"T5","x":3740,"y":-0.06},{"s":"Tumor","i":"T5","x":3770,"y":0.1},{"s":"Tumor","i":"T5","x":3800,"y":-0.02},{"s":"Tumor","i":"T5","x":3830,"y":-0.09},{"s":"Tumor","i":"T5","x":3860,"y":0.06},{"s":"Tumor","i":"T5","x":3890,"y":0.11},{"s":"Tumor","i":"T5","x":3920,"y":-0.05},{"s":"Tumor","i":"T5","x":3950,"y":0.02},{"s":"Tumor","i":"T5","x":3980,"y":0.07},{"s":"Tumor","i":"T5","x":4000,"y":-0.12}
],
"c": [
{"s":"Healthy","i":"H1","x":2750,"y":0.05},{"s":"Healthy","i":"H1","x":2760,"y":-0.08},{"s":"Healthy","i":"H1","x":2770,"y":0.03},{"s":"Healthy","i":"H1","x":2780,"y":-0.05},{"s":"Healthy","i":"H1","x":2790,"y":0.07},{"s":"Healthy","i":"H1","x":2800,"y":-0.1},{"s":"Healthy","i":"H1","x":2810,"y":0.02},{"s":"Healthy","i":"H1","x":2820,"y":-0.06},{"s":"Healthy","i":"H1","x":2830,"y":0.04},{"s":"Healthy","i":"H1","x":2840,"y":0.32},{"s":"Healthy","i":"H1","x":2850,"y":0.78},{"s":"Healthy","i":"H1","x":2860,"y":0.95},{"s":"Healthy","i":"H1","x":2870,"y":0.82},{"s":"Healthy","i":"H1","x":2880,"y":0.8},{"s":"Healthy","i":"H1","x":2890,"y":0.9},{"s":"Healthy","i":"H1","x":2900,"y":0.98},{"s":"Healthy","i":"H1","x":2910,"y":0.93},{"s":"Healthy","i":"H1","x":2920,"y":0.99},{"s":"Healthy","i":"H1","x":2930,"y":0.96},{"s":"Healthy","i":"H1","x":2940,"y":0.92},{"s":"Healthy","i":"H1","x":2950,"y":0.66},{"s":"Healthy","i":"H1","x":2960,"y":0.52},{"s":"Healthy","i":"H1","x":2970,"y":0.45},{"s":"Healthy","i":"H1","x":2980,"y":0.31},{"s":"Healthy","i":"H1","x":2990,"y":0.24},{"s":"Healthy","i":"H1","x":3000,"y":0.18},{"s":"Healthy","i":"H1","x":3010,"y":0.21},{"s":"Healthy","i":"H1","x":3020,"y":0.12},{"s":"Healthy","i":"H1","x":3030,"y":0.0},{"s":"Healthy","i":"H1","x":3040,"y":0.05},{"s":"Healthy","i":"H1","x":3050,"y":-0.02},{"s":"Healthy","i":"H1","x":3060,"y":0.06},{"s":"Healthy","i":"H1","x":3070,"y":0.01},{"s":"Healthy","i":"H1","x":3080,"y":0.07},{"s":"Healthy","i":"H1","x":3090,"y":0.02},{"s":"Healthy","i":"H1","x":3100,"y":0.1},
{"s":"Healthy","i":"H2","x":2750,"y":-0.04},{"s":"Healthy","i":"H2","x":2760,"y":0.06},{"s":"Healthy","i":"H2","x":2770,"y":-0.1},{"s":"Healthy","i":"H2","x":2780,"y":0.04},{"s":"Healthy","i":"H2","x":2790,"y":-0.03},{"s":"Healthy","i":"H2","x":2800,"y":0.05},{"s":"Healthy","i":"H2","x":2810,"y":-0.13},{"s":"Healthy","i":"H2","x":2820,"y":0.03},{"s":"Healthy","i":"H2","x":2830,"y":-0.02},{"s":"Healthy","i":"H2","x":2840,"y":0.25},{"s":"Healthy","i":"H2","x":2850,"y":0.65},{"s":"Healthy","i":"H2","x":2860,"y":0.84},{"s":"Healthy","i":"H2","x":2870,"y":0.74},{"s":"Healthy","i":"H2","x":2880,"y":0.7},{"s":"Healthy","i":"H2","x":2890,"y":0.84},{"s":"Healthy","i":"H2","x":2900,"y":0.93},{"s":"Healthy","i":"H2","x":2910,"y":0.97},{"s":"Healthy","i":"H2","x":2920,"y":0.94},{"s":"Healthy","i":"H2","x":2930,"y":0.99},{"s":"Healthy","i":"H2","x":2940,"y":0.86},{"s":"Healthy","i":"H2","x":2950,"y":0.6},{"s":"Healthy","i":"H2","x":2960,"y":0.47},{"s":"Healthy","i":"H2","x":2970,"y":0.4},{"s":"Healthy","i":"H2","x":2980,"y":0.28},{"s":"Healthy","i":"H2","x":2990,"y":0.2},{"s":"Healthy","i":"H2","x":3000,"y":0.21},{"s":"Healthy","i":"H2","x":3010,"y":0.16},{"s":"Healthy","i":"H2","x":3020,"y":0.15},{"s":"Healthy","i":"H2","x":3030,"y":0.05},{"s":"Healthy","i":"H2","x":3040,"y":-0.03},{"s":"Healthy","i":"H2","x":3050,"y":0.06},{"s":"Healthy","i":"H2","x":3060,"y":0.0},{"s":"Healthy","i":"H2","x":3070,"y":0.04},{"s":"Healthy","i":"H2","x":3080,"y":-0.02},{"s":"Healthy","i":"H2","x":3090,"y":0.05},{"s":"Healthy","i":"H2","x":3100,"y":0.03},
{"s":"Healthy","i":"H3","x":2750,"y":0.08},{"s":"Healthy","i":"H3","x":2760,"y":-0.02},{"s":"Healthy","i":"H3","x":2770,"y":0.05},{"s":"Healthy","i":"H3","x":2780,"y":-0.09},{"s":"Healthy","i":"H3","x":2790,"y":0.01},{"s":"Healthy","i":"H3","x":2800,"y":0.06},{"s":"Healthy","i":"H3","x":2810,"y":-0.04},{"s":"Healthy","i":"H3","x":2820,"y":-0.08},{"s":"Healthy","i":"H3","x":2830,"y":0.06},{"s":"Healthy","i":"H3","x":2840,"y":0.22},{"s":"Healthy","i":"H3","x":2850,"y":0.68},{"s":"Healthy","i":"H3","x":2860,"y":0.8},{"s":"Healthy","i":"H3","x":2870,"y":0.72},{"s":"Healthy","i":"H3","x":2880,"y":0.7},{"s":"Healthy","i":"H3","x":2890,"y":0.82},{"s":"Healthy","i":"H3","x":2900,"y":0.96},{"s":"Healthy","i":"H3","x":2910,"y":0.94},{"s":"Healthy","i":"H3","x":2920,"y":0.97},{"s":"Healthy","i":"H3","x":2930,"y":0.95},{"s":"Healthy","i":"H3","x":2940,"y":0.9},{"s":"Healthy","i":"H3","x":2950,"y":0.58},{"s":"Healthy","i":"H3","x":2960,"y":0.5},{"s":"Healthy","i":"H3","x":2970,"y":0.38},{"s":"Healthy","i":"H3","x":2980,"y":0.32},{"s":"Healthy","i":"H3","x":2990,"y":0.21},{"s":"Healthy","i":"H3","x":3000,"y":0.2},{"s":"Healthy","i":"H3","x":3010,"y":0.18},{"s":"Healthy","i":"H3","x":3020,"y":0.1},{"s":"Healthy","i":"H3","x":3030,"y":0.03},{"s":"Healthy","i":"H3","x":3040,"y":0.01},{"s":"Healthy","i":"H3","x":3050,"y":0.04},{"s":"Healthy","i":"H3","x":3060,"y":-0.04},{"s":"Healthy","i":"H3","x":3070,"y":0.07},{"s":"Healthy","i":"H3","x":3080,"y":0.02},{"s":"Healthy","i":"H3","x":3090,"y":0.08},{"s":"Healthy","i":"H3","x":3100,"y":0.05},
{"s":"Tumor","i":"T1","x":2750,"y":-0.08},{"s":"Tumor","i":"T1","x":2760,"y":0.09},{"s":"Tumor","i":"T1","x":2770,"y":-0.03},{"s":"Tumor","i":"T1","x":2780,"y":0.06},{"s":"Tumor","i":"T1","x":2790,"y":-0.12},{"s":"Tumor","i":"T1","x":2800,"y":0.04},{"s":"Tumor","i":"T1","x":2810,"y":-0.05},{"s":"Tumor","i":"T1","x":2820,"y":0.08},{"s":"Tumor","i":"T1","x":2830,"y":-0.15},{"s":"Tumor","i":"T1","x":2840,"y":0.15},{"s":"Tumor","i":"T1","x":2850,"y":0.22},{"s":"Tumor","i":"T1","x":2860,"y":0.33},{"s":"Tumor","i":"T1","x":2870,"y":0.31},{"s":"Tumor","i":"T1","x":2880,"y":0.5},{"s":"Tumor","i":"T1","x":2890,"y":0.48},{"s":"Tumor","i":"T1","x":2900,"y":0.63},{"s":"Tumor","i":"T1","x":2910,"y":0.65},{"s":"Tumor","i":"T1","x":2920,"y":0.82},{"s":"Tumor","i":"T1","x":2930,"y":0.83},{"s":"Tumor","i":"T1","x":2940,"y":0.97},{"s":"Tumor","i":"T1","x":2950,"y":0.86},{"s":"Tumor","i":"T1","x":2960,"y":0.7},{"s":"Tumor","i":"T1","x":2970,"y":0.68},{"s":"Tumor","i":"T1","x":2980,"y":0.56},{"s":"Tumor","i":"T1","x":2990,"y":0.55},{"s":"Tumor","i":"T1","x":3000,"y":0.46},{"s":"Tumor","i":"T1","x":3010,"y":0.4},{"s":"Tumor","i":"T1","x":3020,"y":0.33},{"s":"Tumor","i":"T1","x":3030,"y":0.36},{"s":"Tumor","i":"T1","x":3040,"y":0.33},{"s":"Tumor","i":"T1","x":3050,"y":0.42},{"s":"Tumor","i":"T1","x":3060,"y":0.48},{"s":"Tumor","i":"T1","x":3070,"y":0.52},{"s":"Tumor","i":"T1","x":3080,"y":0.6},{"s":"Tumor","i":"T1","x":3090,"y":0.7},{"s":"Tumor","i":"T1","x":3100,"y":0.64},
{"s":"Tumor","i":"T2","x":2750,"y":0.06},{"s":"Tumor","i":"T2","x":2760,"y":-0.05},{"s":"Tumor","i":"T2","x":2770,"y":0.1},{"s":"Tumor","i":"T2","x":2780,"y":-0.07},{"s":"Tumor","i":"T2","x":2790,"y":0.03},{"s":"Tumor","i":"T2","x":2800,"y":-0.09},{"s":"Tumor","i":"T2","x":2810,"y":0.07},{"s":"Tumor","i":"T2","x":2820,"y":-0.02},{"s":"Tumor","i":"T2","x":2830,"y":0.05},{"s":"Tumor","i":"T2","x":2840,"y":0.08},{"s":"Tumor","i":"T2","x":2850,"y":0.28},{"s":"Tumor","i":"T2","x":2860,"y":0.25},{"s":"Tumor","i":"T2","x":2870,"y":0.4},{"s":"Tumor","i":"T2","x":2880,"y":0.42},{"s":"Tumor","i":"T2","x":2890,"y":0.56},{"s":"Tumor","i":"T2","x":2900,"y":0.55},{"s":"Tumor","i":"T2","x":2910,"y":0.72},{"s":"Tumor","i":"T2","x":2920,"y":0.75},{"s":"Tumor","i":"T2","x":2930,"y":0.88},{"s":"Tumor","i":"T2","x":2940,"y":1.0},{"s":"Tumor","i":"T2","x":2950,"y":0.8},{"s":"Tumor","i":"T2","x":2960,"y":0.75},{"s":"Tumor","i":"T2","x":2970,"y":0.6},{"s":"Tumor","i":"T2","x":2980,"y":0.6},{"s":"Tumor","i":"T2","x":2990,"y":0.46},{"s":"Tumor","i":"T2","x":3000,"y":0.44},{"s":"Tumor","i":"T2","x":3010,"y":0.32},{"s":"Tumor","i":"T2","x":3020,"y":0.32},{"s":"Tumor","i":"T2","x":3030,"y":0.25},{"s":"Tumor","i":"T2","x":3040,"y":0.32},{"s":"Tumor","i":"T2","x":3050,"y":0.3},{"s":"Tumor","i":"T2","x":3060,"y":0.42},{"s":"Tumor","i":"T2","x":3070,"y":0.44},{"s":"Tumor","i":"T2","x":3080,"y":0.55},{"s":"Tumor","i":"T2","x":3090,"y":0.52},{"s":"Tumor","i":"T2","x":3100,"y":0.6},
{"s":"Tumor","i":"T3","x":2750,"y":-0.02},{"s":"Tumor","i":"T3","x":2760,"y":0.04},{"s":"Tumor","i":"T3","x":2770,"y":-0.08},{"s":"Tumor","i":"T3","x":2780,"y":0.1},{"s":"Tumor","i":"T3","x":2790,"y":-0.04},{"s":"Tumor","i":"T3","x":2800,"y":0.02},{"s":"Tumor","i":"T3","x":2810,"y":-0.1},{"s":"Tumor","i":"T3","x":2820,"y":0.05},{"s":"Tumor","i":"T3","x":2830,"y":0.0},{"s":"Tumor","i":"T3","x":2840,"y":0.14},{"s":"Tumor","i":"T3","x":2850,"y":0.2},{"s":"Tumor","i":"T3","x":2860,"y":0.3},{"s":"Tumor","i":"T3","x":2870,"y":0.33},{"s":"Tumor","i":"T3","x":2880,"y":0.4},{"s":"Tumor","i":"T3","x":2890,"y":0.55},{"s":"Tumor","i":"T3","x":2900,"y":0.58},{"s":"Tumor","i":"T3","x":2910,"y":0.66},{"s":"Tumor","i":"T3","x":2920,"y":0.8},{"s":"Tumor","i":"T3","x":2930,"y":0.82},{"s":"Tumor","i":"T3","x":2940,"y":0.92},{"s":"Tumor","i":"T3","x":2950,"y":0.85},{"s":"Tumor","i":"T3","x":2960,"y":0.68},{"s":"Tumor","i":"T3","x":2970,"y":0.66},{"s":"Tumor","i":"T3","x":2980,"y":0.55},{"s":"Tumor","i":"T3","x":2990,"y":0.52},{"s":"Tumor","i":"T3","x":3000,"y":0.38},{"s":"Tumor","i":"T3","x":3010,"y":0.38},{"s":"Tumor","i":"T3","x":3020,"y":0.26},{"s":"Tumor","i":"T3","x":3030,"y":0.3},{"s":"Tumor","i":"T3","x":3040,"y":0.26},{"s":"Tumor","i":"T3","x":3050,"y":0.35},{"s":"Tumor","i":"T3","x":3060,"y":0.36},{"s":"Tumor","i":"T3","x":3070,"y":0.42},{"s":"Tumor","i":"T3","x":3080,"y":0.44},{"s":"Tumor","i":"T3","x":3090,"y":0.5},{"s":"Tumor","i":"T3","x":3100,"y":0.45},
{"s":"Tumor","i":"T4","x":2750,"y":0.1},{"s":"Tumor","i":"T4","x":2760,"y":-0.1},{"s":"Tumor","i":"T4","x":2770,"y":0.02},{"s":"Tumor","i":"T4","x":2780,"y":-0.03},{"s":"Tumor","i":"T4","x":2790,"y":0.08},{"s":"Tumor","i":"T4","x":2800,"y":-0.06},{"s":"Tumor","i":"T4","x":2810,"y":0.04},{"s":"Tumor","i":"T4","x":2820,"y":-0.11},{"s":"Tumor","i":"T4","x":2830,"y":0.07},{"s":"Tumor","i":"T4","x":2840,"y":0.1},{"s":"Tumor","i":"T4","x":2850,"y":0.26},{"s":"Tumor","i":"T4","x":2860,"y":0.24},{"s":"Tumor","i":"T4","x":2870,"y":0.36},{"s":"Tumor","i":"T4","x":2880,"y":0.46},{"s":"Tumor","i":"T4","x":2890,"y":0.49},{"s":"Tumor","i":"T4","x":2900,"y":0.6},{"s":"Tumor","i":"T4","x":2910,"y":0.7},{"s":"Tumor","i":"T4","x":2920,"y":0.76},{"s":"Tumor","i":"T4","x":2930,"y":0.9},{"s":"Tumor","i":"T4","x":2940,"y":0.94},{"s":"Tumor","i":"T4","x":2950,"y":0.78},{"s":"Tumor","i":"T4","x":2960,"y":0.74},{"s":"Tumor","i":"T4","x":2970,"y":0.62},{"s":"Tumor","i":"T4","x":2980,"y":0.58},{"s":"Tumor","i":"T4","x":2990,"y":0.48},{"s":"Tumor","i":"T4","x":3000,"y":0.4},{"s":"Tumor","i":"T4","x":3010,"y":0.36},{"s":"Tumor","i":"T4","x":3020,"y":0.3},{"s":"Tumor","i":"T4","x":3030,"y":0.22},{"s":"Tumor","i":"T4","x":3040,"y":0.28},{"s":"Tumor","i":"T4","x":3050,"y":0.33},{"s":"Tumor","i":"T4","x":3060,"y":0.35},{"s":"Tumor","i":"T4","x":3070,"y":0.4},{"s":"Tumor","i":"T4","x":3080,"y":0.45},{"s":"Tumor","i":"T4","x":3090,"y":0.42},{"s":"Tumor","i":"T4","x":3100,"y":0.4}
],
"bands": [{"a":2850,"b":2882},{"a":2909,"b":2964}],
"d": [
{"g":"tumor","b":55,"e":57.5,"f":0.001},{"g":"tumor","b":57.5,"e":60,"f":0.002},{"g":"tumor","b":60,"e":62.5,"f":0.003},{"g":"tumor","b":62.5,"e":65,"f":0.005},{"g":"tumor","b":65,"e":67.5,"f":0.009},{"g":"tumor","b":67.5,"e":70,"f":0.016},{"g":"tumor","b":70,"e":72.5,"f":0.081},{"g":"tumor","b":72.5,"e":75,"f":0.172},{"g":"tumor","b":75,"e":77.5,"f":0.246},{"g":"tumor","b":77.5,"e":80,"f":0.262},{"g":"tumor","b":80,"e":82.5,"f":0.129},{"g":"tumor","b":82.5,"e":85,"f":0.03},{"g":"tumor","b":85,"e":87.5,"f":0.01},{"g":"tumor","b":87.5,"e":90,"f":0.004},{"g":"tumor","b":90,"e":92.5,"f":0.001},
{"g":"healthy tissue","b":0,"e":2.5,"f":0.003},{"g":"healthy tissue","b":2.5,"e":5,"f":0.004},{"g":"healthy tissue","b":5,"e":7.5,"f":0.004},{"g":"healthy tissue","b":7.5,"e":10,"f":0.003},{"g":"healthy tissue","b":10,"e":12.5,"f":0.003},{"g":"healthy tissue","b":12.5,"e":15,"f":0.006},{"g":"healthy tissue","b":15,"e":17.5,"f":0.008},{"g":"healthy tissue","b":17.5,"e":20,"f":0.006},{"g":"healthy tissue","b":20,"e":22.5,"f":0.009},{"g":"healthy tissue","b":22.5,"e":25,"f":0.009},{"g":"healthy tissue","b":25,"e":27.5,"f":0.009},{"g":"healthy tissue","b":27.5,"e":30,"f":0.012},{"g":"healthy tissue","b":30,"e":32.5,"f":0.017},{"g":"healthy tissue","b":32.5,"e":35,"f":0.014},{"g":"healthy tissue","b":35,"e":37.5,"f":0.019},{"g":"healthy tissue","b":37.5,"e":40,"f":0.019},{"g":"healthy tissue","b":40,"e":42.5,"f":0.014},{"g":"healthy tissue","b":42.5,"e":45,"f":0.019},{"g":"healthy tissue","b":45,"e":47.5,"f":0.027},{"g":"healthy tissue","b":47.5,"e":50,"f":0.022},{"g":"healthy tissue","b":50,"e":52.5,"f":0.024},{"g":"healthy tissue","b":52.5,"e":55,"f":0.026},{"g":"healthy tissue","b":55,"e":57.5,"f":0.029},{"g":"healthy tissue","b":57.5,"e":60,"f":0.032},{"g":"healthy tissue","b":60,"e":62.5,"f":0.037},{"g":"healthy tissue","b":62.5,"e":65,"f":0.042},{"g":"healthy tissue","b":65,"e":67.5,"f":0.048},{"g":"healthy tissue","b":67.5,"e":70,"f":0.057},{"g":"healthy tissue","b":70,"e":72.5,"f":0.072},{"g":"healthy tissue","b":72.5,"e":75,"f":0.086},{"g":"healthy tissue","b":75,"e":77.5,"f":0.099},{"g":"healthy tissue","b":77.5,"e":80,"f":0.094},{"g":"healthy tissue","b":80,"e":82.5,"f":0.072},{"g":"healthy tissue","b":82.5,"e":85,"f":0.043},{"g":"healthy tissue","b":85,"e":87.5,"f":0.016},{"g":"healthy tissue","b":87.5,"e":90,"f":0.008},{"g":"healthy tissue","b":90,"e":92.5,"f":0.003},{"g":"healthy tissue","b":92.5,"e":95,"f":0.001},{"g":"healthy tissue","b":95,"e":97.5,"f":0.0005},{"g":"healthy tissue","b":97.5,"e":100,"f":0.001}
],
"e": [
{"g":"tumor","b":0.15,"e":0.175,"f":0.002},{"g":"tumor","b":0.175,"e":0.2,"f":0.006},{"g":"tumor","b":0.2,"e":0.225,"f":0.03},{"g":"tumor","b":0.225,"e":0.25,"f":0.123},{"g":"tumor","b":0.25,"e":0.275,"f":0.248},{"g":"tumor","b":0.275,"e":0.3,"f":0.335},{"g":"tumor","b":0.3,"e":0.325,"f":0.143},{"g":"tumor","b":0.325,"e":0.35,"f":0.045},{"g":"tumor","b":0.35,"e":0.375,"f":0.012},{"g":"tumor","b":0.375,"e":0.4,"f":0.004},{"g":"tumor","b":0.4,"e":0.425,"f":0.001},
{"g":"healthy tissue","b":0,"e":0.025,"f":0.0015},{"g":"healthy tissue","b":0.025,"e":0.05,"f":0.0015},{"g":"healthy tissue","b":0.05,"e":0.075,"f":0.0008},{"g":"healthy tissue","b":0.075,"e":0.1,"f":0.004},{"g":"healthy tissue","b":0.1,"e":0.125,"f":0.006},{"g":"healthy tissue","b":0.125,"e":0.15,"f":0.01},{"g":"healthy tissue","b":0.15,"e":0.175,"f":0.021},{"g":"healthy tissue","b":0.175,"e":0.2,"f":0.037},{"g":"healthy tissue","b":0.2,"e":0.225,"f":0.057},{"g":"healthy tissue","b":0.225,"e":0.25,"f":0.073},{"g":"healthy tissue","b":0.25,"e":0.275,"f":0.066},{"g":"healthy tissue","b":0.275,"e":0.3,"f":0.055},{"g":"healthy tissue","b":0.3,"e":0.325,"f":0.038},{"g":"healthy tissue","b":0.325,"e":0.35,"f":0.041},{"g":"healthy tissue","b":0.35,"e":0.375,"f":0.034},{"g":"healthy tissue","b":0.375,"e":0.4,"f":0.029},{"g":"healthy tissue","b":0.4,"e":0.425,"f":0.022},{"g":"healthy tissue","b":0.425,"e":0.45,"f":0.031},{"g":"healthy tissue","b":0.45,"e":0.475,"f":0.034},{"g":"healthy tissue","b":0.475,"e":0.5,"f":0.032},{"g":"healthy tissue","b":0.5,"e":0.525,"f":0.04},{"g":"healthy tissue","b":0.525,"e":0.55,"f":0.041},{"g":"healthy tissue","b":0.55,"e":0.575,"f":0.037},{"g":"healthy tissue","b":0.575,"e":0.6,"f":0.043},{"g":"healthy tissue","b":0.6,"e":0.625,"f":0.052},{"g":"healthy tissue","b":0.625,"e":0.65,"f":0.061},{"g":"healthy tissue","b":0.65,"e":0.675,"f":0.052},{"g":"healthy tissue","b":0.675,"e":0.7,"f":0.039},{"g":"healthy tissue","b":0.7,"e":0.725,"f":0.023},{"g":"healthy tissue","b":0.725,"e":0.75,"f":0.01},{"g":"healthy tissue","b":0.75,"e":0.775,"f":0.0015},{"g":"healthy tissue","b":0.775,"e":0.8,"f":0.0008},{"g":"healthy tissue","b":0.8,"e":0.825,"f":0.0008},{"g":"healthy tissue","b":0.825,"e":0.85,"f":0.0008},{"g":"healthy tissue","b":0.85,"e":0.875,"f":0.0008},{"g":"healthy tissue","b":0.875,"e":0.9,"f":0.0008}
],
"f": [
{"g":"tumor","b":0,"e":0.025,"f":0.026},{"g":"tumor","b":0.025,"e":0.05,"f":0.085},{"g":"tumor","b":0.05,"e":0.075,"f":0.07},{"g":"tumor","b":0.075,"e":0.1,"f":0.091},{"g":"tumor","b":0.1,"e":0.125,"f":0.079},{"g":"tumor","b":0.125,"e":0.15,"f":0.065},{"g":"tumor","b":0.15,"e":0.175,"f":0.051},{"g":"tumor","b":0.175,"e":0.2,"f":0.055},{"g":"tumor","b":0.2,"e":0.225,"f":0.048},{"g":"tumor","b":0.225,"e":0.25,"f":0.041},{"g":"tumor","b":0.25,"e":0.275,"f":0.043},{"g":"tumor","b":0.275,"e":0.3,"f":0.038},{"g":"tumor","b":0.3,"e":0.325,"f":0.028},{"g":"tumor","b":0.325,"e":0.35,"f":0.033},{"g":"tumor","b":0.35,"e":0.375,"f":0.023},{"g":"tumor","b":0.375,"e":0.4,"f":0.022},{"g":"tumor","b":0.4,"e":0.425,"f":0.021},{"g":"tumor","b":0.425,"e":0.45,"f":0.021},{"g":"tumor","b":0.45,"e":0.475,"f":0.031},{"g":"tumor","b":0.475,"e":0.5,"f":0.022},{"g":"tumor","b":0.5,"e":0.525,"f":0.022},{"g":"tumor","b":0.525,"e":0.55,"f":0.019},{"g":"tumor","b":0.55,"e":0.575,"f":0.016},{"g":"tumor","b":0.575,"e":0.6,"f":0.012},{"g":"tumor","b":0.6,"e":0.625,"f":0.011},{"g":"tumor","b":0.625,"e":0.65,"f":0.01},{"g":"tumor","b":0.65,"e":0.675,"f":0.005},{"g":"tumor","b":0.675,"e":0.7,"f":0.002},{"g":"tumor","b":0.7,"e":0.725,"f":0.005},{"g":"tumor","b":0.725,"e":0.75,"f":0.002},{"g":"tumor","b":0.75,"e":0.775,"f":0.004},{"g":"tumor","b":0.775,"e":0.8,"f":0.002},{"g":"tumor","b":0.8,"e":0.825,"f":0.001},{"g":"tumor","b":0.825,"e":0.85,"f":0.001},{"g":"tumor","b":0.85,"e":0.875,"f":0.001},{"g":"tumor","b":0.875,"e":0.9,"f":0.0005},{"g":"tumor","b":0.9,"e":0.925,"f":0.0005},{"g":"tumor","b":0.925,"e":0.95,"f":0.0005},
{"g":"healthy tissue","b":0,"e":0.025,"f":0.385},{"g":"healthy tissue","b":0.025,"e":0.05,"f":0.343},{"g":"healthy tissue","b":0.05,"e":0.075,"f":0.093},{"g":"healthy tissue","b":0.075,"e":0.1,"f":0.04},{"g":"healthy tissue","b":0.1,"e":0.125,"f":0.03},{"g":"healthy tissue","b":0.125,"e":0.15,"f":0.022},{"g":"healthy tissue","b":0.15,"e":0.175,"f":0.018},{"g":"healthy tissue","b":0.175,"e":0.2,"f":0.025},{"g":"healthy tissue","b":0.2,"e":0.225,"f":0.019},{"g":"healthy tissue","b":0.225,"e":0.25,"f":0.011},{"g":"healthy tissue","b":0.25,"e":0.275,"f":0.008},{"g":"healthy tissue","b":0.275,"e":0.3,"f":0.006},{"g":"healthy tissue","b":0.3,"e":0.325,"f":0.004},{"g":"healthy tissue","b":0.325,"e":0.35,"f":0.002},{"g":"healthy tissue","b":0.35,"e":0.375,"f":0.001}
]
},
"spacing": 10,
"resolve": {"scale": {"color": "independent"}, "legend": {"color": "independent"}},
"vconcat": [
{
 "spacing": 20,
 "resolve": {"scale": {"color": "independent"}, "legend": {"color": "independent"}},
 "hconcat": [
 {
  "width": 205, "height": 152,
  "title": {"text": "A", "offset": 6, "dx": 3},
  "data": {"name": "a"},
  "encoding": {
   "x": {"field": "x", "type": "quantitative", "scale": {"domain": [2600, 4000], "nice": false, "zero": false}, "axis": {"title": "Raman shift (cm⁻¹)", "values": [2600,2800,3000,3200,3400,3600,3800,4000], "labelExpr": "'' + datum.value", "labelFontSize": 8, "titleFontSize": 8.5, "labelPadding": 8, "titlePadding": 3}},
   "y": {"field": "y", "type": "quantitative", "scale": {"domain": [0, 7000], "nice": false}, "axis": {"title": "Intensity (arb. units)", "values": [0,1000,2000,3000,4000,5000,6000,7000], "labelExpr": "'' + datum.value", "labelFontSize": 8, "titleFontSize": 8.5, "labelPadding": 5, "titlePadding": 3}},
   "color": {"field": "s", "type": "nominal", "scale": {"domain": ["Healthy","Tumor"], "range": ["#00ee00","#ff0000"]}, "legend": {"title": null, "orient": "top-right", "offset": 6, "fillColor": "white", "strokeColor": "#a0a0a0", "padding": 3, "labelFontSize": 8, "labelColor": "#262626", "symbolType": "M-3,0H3", "symbolSize": 64, "symbolStrokeWidth": 1, "symbolOffset": 2, "labelOffset": 12, "rowPadding": 2}},
   "detail": {"field": "i"}
  },
  "layer": [
   {"transform": [{"filter": "datum.s === 'Healthy'"}], "mark": {"type": "line", "strokeWidth": 1, "clip": true}},
   {"transform": [{"filter": "datum.s === 'Tumor'"}], "mark": {"type": "line", "strokeWidth": 1, "clip": true}}
  ]
 },
 {
  "width": 210, "height": 152,
  "title": {"text": "B", "offset": 6, "dx": 3},
  "data": {"name": "b"},
  "encoding": {
   "x": {"field": "x", "type": "quantitative", "scale": {"domain": [2600, 4000], "nice": false, "zero": false}, "axis": {"title": "Raman shift (cm⁻¹)", "values": [2600,2800,3000,3200,3400,3600,3800,4000], "labelExpr": "'' + datum.value", "labelFontSize": 8, "titleFontSize": 8.5, "labelPadding": 8, "titlePadding": 3}},
   "y": {"field": "y", "type": "quantitative", "scale": {"domain": [-0.5, 2.5], "nice": false, "zero": false}, "axis": {"title": "Intensity (arb. units)", "values": [-0.5,0,0.5,1,1.5,2,2.5], "labelExpr": "'' + datum.value", "labelFontSize": 8, "titleFontSize": 8.5, "labelPadding": 5, "titlePadding": 3}},
   "color": {"field": "s", "type": "nominal", "scale": {"domain": ["Healthy","Tumor"], "range": ["#00ee00","#ff0000"]}, "legend": {"title": null, "orient": "top-right", "offset": 6, "fillColor": "white", "strokeColor": "#a0a0a0", "padding": 3, "labelFontSize": 8, "labelColor": "#262626", "symbolType": "M-3,0H3", "symbolSize": 64, "symbolStrokeWidth": 1, "symbolOffset": 2, "labelOffset": 12, "rowPadding": 2}},
   "detail": {"field": "i"}
  },
  "layer": [
   {"transform": [{"filter": "datum.s === 'Healthy'"}], "mark": {"type": "line", "strokeWidth": 0.9, "clip": true}},
   {"transform": [{"filter": "datum.s === 'Tumor'"}], "mark": {"type": "line", "strokeWidth": 0.9, "clip": true}}
  ]
 },
 {
  "width": 210, "height": 152,
  "title": {"text": "C", "offset": 6, "dx": 3},
  "layer": [
   {
    "data": {"name": "bands"},
    "mark": {"type": "rect", "color": "#e2e2e2"},
    "encoding": {
     "x": {"field": "a", "type": "quantitative", "scale": {"domain": [2750, 3100], "nice": false, "zero": false}, "axis": {"title": "Raman shift (cm⁻¹)", "values": [2750,2800,2850,2900,2950,3000,3050,3100], "labelExpr": "'' + datum.value", "labelFontSize": 8, "titleFontSize": 8.5, "labelPadding": 8, "titlePadding": 3}},
     "x2": {"field": "b"}
    }
   },
   {
    "data": {"name": "c"},
    "encoding": {
     "x": {"field": "x", "type": "quantitative", "scale": {"domain": [2750, 3100], "nice": false, "zero": false}, "axis": {"title": "Raman shift (cm⁻¹)", "values": [2750,2800,2850,2900,2950,3000,3050,3100], "labelExpr": "'' + datum.value", "labelFontSize": 8, "titleFontSize": 8.5, "labelPadding": 8, "titlePadding": 3}},
     "y": {"field": "y", "type": "quantitative", "scale": {"domain": [-0.2, 1.1], "nice": false, "zero": false}, "axis": {"title": "Intensity (arb. units)", "values": [-0.2,0,0.2,0.4,0.6,0.8,1], "labelExpr": "'' + datum.value", "labelFontSize": 8, "titleFontSize": 8.5, "labelPadding": 5, "titlePadding": 6}},
     "color": {"field": "s", "type": "nominal", "scale": {"domain": ["Healthy","Tumor"], "range": ["#00ee00","#ff0000"]}, "legend": {"title": null, "orient": "top-right", "offset": 6, "fillColor": "white", "strokeColor": "#a0a0a0", "padding": 3, "labelFontSize": 8, "labelColor": "#262626", "symbolType": "M-3,0H3", "symbolSize": 64, "symbolStrokeWidth": 1, "symbolOffset": 2, "labelOffset": 12, "rowPadding": 2}},
     "detail": {"field": "i"}
    },
    "layer": [
     {"transform": [{"filter": "datum.s === 'Healthy'"}], "mark": {"type": "line", "strokeWidth": 0.9, "clip": true}},
     {"transform": [{"filter": "datum.s === 'Tumor'"}], "mark": {"type": "line", "strokeWidth": 0.9, "clip": true}}
    ]
   }
  ]
 }
 ]
},
{
 "spacing": 27,
 "resolve": {"scale": {"color": "independent"}, "legend": {"color": "independent"}},
 "hconcat": [
 {
  "width": 198, "height": 240,
  "title": {"text": "D", "offset": 0, "dy": 20, "dx": 3},
  "data": {"name": "d"},
  "mark": {"type": "rect", "fillOpacity": 0.6, "stroke": "#111", "strokeWidth": 0.6},
  "encoding": {
   "x": {"field": "b", "type": "quantitative", "scale": {"domain": [-5, 105], "nice": false, "zero": false}, "axis": {"title": "[H₂0]", "values": [0,50,100], "labelExpr": "'' + datum.value", "labelFontSize": 12, "titleFontSize": 14, "labelPadding": 10, "titlePadding": 10}},
   "x2": {"field": "e"},
   "y": {"field": "f", "type": "quantitative", "scale": {"domain": [0, 0.3], "nice": false}, "axis": {"title": "rel. frequency", "values": [0,0.05,0.1,0.15,0.2,0.25,0.3], "labelExpr": "'' + datum.value", "labelFontSize": 12, "titleFontSize": 14, "labelPadding": 6, "titlePadding": 6}},
   "y2": {"datum": 0},
   "color": {"field": "g", "type": "nominal", "scale": {"domain": ["tumor","healthy tissue"], "range": ["#ff0000","#00ff00"]}, "legend": {"title": null, "orient": "top-left", "offset": 7, "fillColor": "white", "strokeColor": "#999", "padding": 4, "labelFontSize": 12, "labelColor": "#111", "symbolType": "M-2.75,-0.5H2.75V0.5H-2.75Z", "symbolSize": 64, "symbolStrokeColor": "#222", "symbolStrokeWidth": 1, "symbolOpacity": 0.65, "symbolOffset": 12, "labelOffset": 28, "rowPadding": 5}}
  }
 },
 {
  "width": 196, "height": 240,
  "title": {"text": "E", "offset": 0, "dy": 20, "dx": -4},
  "data": {"name": "e"},
  "mark": {"type": "rect", "fillOpacity": 0.6, "stroke": "#111", "strokeWidth": 0.6},
  "encoding": {
   "x": {"field": "b", "type": "quantitative", "scale": {"domain": [-0.05, 1.05], "nice": false, "zero": false}, "axis": {"title": "Lipid/Protein", "values": [0,0.5,1], "labelExpr": "'' + datum.value", "labelFontSize": 12, "titleFontSize": 14, "labelPadding": 10, "titlePadding": 10}},
   "x2": {"field": "e"},
   "y": {"field": "f", "type": "quantitative", "scale": {"domain": [0, 0.35], "nice": false}, "axis": {"title": "rel. frequency", "values": [0,0.05,0.1,0.15,0.2,0.25,0.3,0.35], "labelExpr": "'' + datum.value", "labelFontSize": 12, "titleFontSize": 14, "labelPadding": 6, "titlePadding": 9}},
   "y2": {"datum": 0},
   "color": {"field": "g", "type": "nominal", "scale": {"domain": ["tumor","healthy tissue"], "range": ["#ff0000","#00ff00"]}, "legend": {"title": null, "orient": "top-right", "offset": 7, "fillColor": "white", "strokeColor": "#999", "padding": 4, "labelFontSize": 12, "labelColor": "#111", "symbolType": "M-2.75,-0.5H2.75V0.5H-2.75Z", "symbolSize": 64, "symbolStrokeColor": "#222", "symbolStrokeWidth": 1, "symbolOpacity": 0.65, "symbolOffset": 12, "labelOffset": 28, "rowPadding": 5}}
  }
 },
 {
  "width": 197, "height": 240,
  "title": {"text": "F", "offset": 0, "dy": 20, "dx": -2},
  "data": {"name": "f"},
  "mark": {"type": "rect", "fillOpacity": 0.6, "stroke": "#111", "strokeWidth": 0.6},
  "encoding": {
   "x": {"field": "b", "type": "quantitative", "scale": {"domain": [-0.05, 1.05], "nice": false, "zero": false}, "axis": {"title": "Raman/AF", "values": [0,0.5,1], "labelExpr": "'' + datum.value", "labelFontSize": 12, "titleFontSize": 14, "labelPadding": 10, "titlePadding": 10}},
   "x2": {"field": "e"},
   "y": {"field": "f", "type": "quantitative", "scale": {"domain": [0, 0.4], "nice": false}, "axis": {"title": "rel. frequency", "values": [0,0.1,0.2,0.3,0.4], "labelExpr": "'' + datum.value", "labelFontSize": 12, "titleFontSize": 14, "labelPadding": 6, "titlePadding": 6}},
   "y2": {"datum": 0},
   "color": {"field": "g", "type": "nominal", "scale": {"domain": ["tumor","healthy tissue"], "range": ["#ff0000","#00ff00"]}, "legend": {"title": null, "orient": "top-right", "offset": 7, "fillColor": "white", "strokeColor": "#999", "padding": 4, "labelFontSize": 12, "labelColor": "#111", "symbolType": "M-2.75,-0.5H2.75V0.5H-2.75Z", "symbolSize": 64, "symbolStrokeColor": "#222", "symbolStrokeWidth": 1, "symbolOpacity": 0.65, "symbolOffset": 12, "labelOffset": 28, "rowPadding": 5}}
  }
 }
 ]
}
]
}
